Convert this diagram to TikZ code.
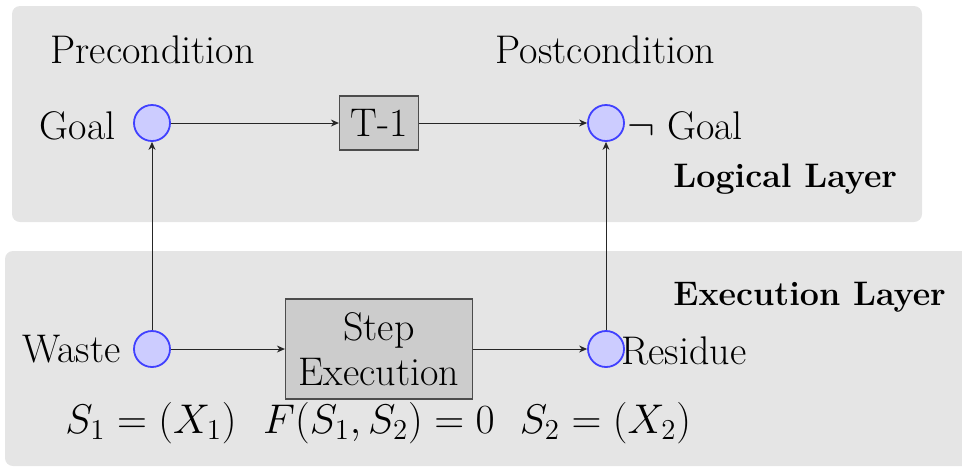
\documentclass[tikz,border=0pt]{standalone}
\usetikzlibrary{arrows.meta}
\begin{document}
\begin{tikzpicture}[x=0.5pt,y=-0.5pt,
  every node/.style={font=\fontsize{20}{22.5}\selectfont, inner sep=0pt},
  layer/.style={fill=gray!20, rounded corners=4pt},
  state/.style={circle, draw=blue!75, fill=blue!20, line width=0.9pt, minimum size=18pt},
  proc/.style={rectangle, draw=black!70, fill=gray!40, line width=0.6pt, align=center},
  lab/.style={anchor=base},
  eqn/.style={anchor=base, font=\fontsize{19.7}{23}\selectfont},
  layername/.style={anchor=base west, font=\fontsize{17}{20}\selectfont\bfseries},
  flow/.style={-{Stealth[length=4pt,width=3.5pt]}, line width=0.45pt, black!85}]
  \clip (0,0) rectangle (962,468);
  % layer backgrounds
  \fill[layer] (12,6) rectangle (922,222);
  \fill[layer] (5,251) rectangle (975,466);

  % states and transitions
  \node[state] (goal) at (152,123) {};
  \node[state] (post) at (606,123) {};
  \node[state] (waste) at (152,349) {};
  \node[state] (res) at (606,349) {};
  \node[proc, minimum width=39.5pt, minimum height=27pt] (t1) at (379,123) {T-1};
  \node[proc, minimum width=93.5pt, minimum height=50pt] (step) at (379,349) {Step\\Execution};

  % labels
  \node[lab] (pre) at (152.5,63) {Precondition};
  \node[lab] (postc) at (605.5,63) {Postcondition};
  \node[anchor=base east] (goallab) at (116,139) {Goal};
  \node[anchor=base west] (ngoal) at (627,139) {$\neg$ Goal};
  \node[layername] (logical) at (673,187) {Logical Layer};
  \node[layername] (exec) at (673,305) {Execution Layer};
  \node[anchor=base east] (wastelab) at (121,362) {Waste};
  \node[anchor=base west] (reslab) at (621,364) {Residue};
  \node[eqn] (s1) at (151,433) {$S_1=(X_1)$};
  \node[eqn] (f) at (379,433) {$F(S_1,S_2)=0$};
  \node[eqn] (s2) at (605.5,433) {$S_2=(X_2)$};

  % connectors
  \draw[flow] (goal) -- (t1);
  \draw[flow] (t1) -- (post);
  \draw[flow] (waste) -- (step);
  \draw[flow] (step) -- (res);
  \draw[flow] (waste) -- (goal);
  \draw[flow] (res) -- (post);
\end{tikzpicture}
\end{document}
